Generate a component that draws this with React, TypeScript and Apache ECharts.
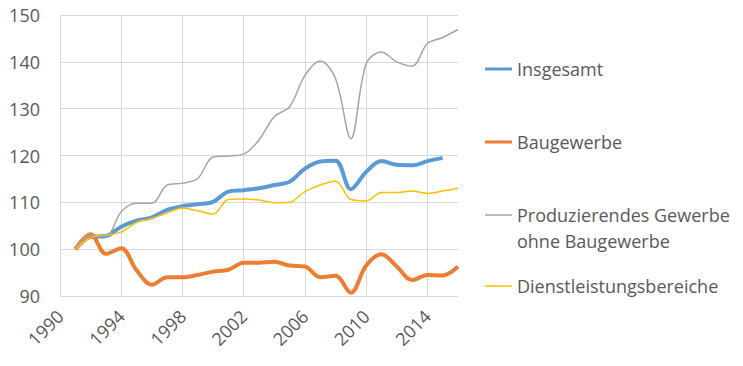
import React, { useEffect, useRef } from "react";
import * as echarts from "echarts";

const years = [1991, 1992, 1993, 1994, 1995, 1996, 1997, 1998, 1999, 2000, 2001, 2002, 2003, 2004, 2005, 2006, 2007, 2008, 2009, 2010, 2011, 2012, 2013, 2014, 2015, 2016];

const insgesamt = [100, 102.6, 102.8, 104.8, 106.1, 106.8, 108.4, 109.2, 109.6, 110.1, 112.3, 112.6, 113, 113.7, 114.4, 117.2, 118.7, 118.9, 112.8, 116.5, 118.8, 118, 117.9, 118.8, 119.5];
const baugewerbe = [100, 103.2, 99, 100.2, 95.5, 92.4, 94, 94, 94.5, 95.2, 95.6, 97.1, 97.1, 97.3, 96.5, 96.3, 94, 94.3, 90.7, 96.5, 98.9, 96.3, 93.4, 94.5, 94.4, 96.3];
const produzierendes = [100, 103, 102.8, 108, 109.8, 109.8, 113.7, 114.1, 115.1, 119.7, 119.9, 120.3, 123.3, 128.3, 130.4, 137.1, 140.2, 136.4, 123.6, 139.6, 142.1, 140, 139.1, 143.9, 145.2, 146.9];
const dienstleistung = [100, 102.5, 103, 103.7, 105.7, 106.6, 107.7, 108.8, 108.2, 107.5, 110.6, 110.7, 110.5, 109.9, 110, 112.3, 113.7, 114.5, 110.6, 110.3, 112.1, 112.1, 112.4, 111.9, 112.4, 113];

const seriesNames = ["Insgesamt", "Baugewerbe", "Produzierendes Gewerbe ohne Baugewerbe", "Dienstleistungsbereiche"];
const legendLabels = ["Insgesamt", "Baugewerbe", "\nProduzierendes Gewerbe\nohne Baugewerbe", "Dienstleistungsbereiche"];
const seriesValues = [insgesamt, baugewerbe, produzierendes, dienstleistung];
const seriesColors = ["#5b9bd5", "#ed7d31", "#a5a5a5", "#ffc000"];
const seriesWidths = [4, 4, 1.5, 1.5];

const FONT = "'Open Sans', sans-serif";

export default function App() {
  const ref = useRef<HTMLDivElement>(null);
  useEffect(() => {
    if (!ref.current) return;
    const chart = echarts.init(ref.current, null, { renderer: "svg" });
    const legendTops = [51, 124, 171, 268];
    const legends = seriesNames.map((name, i) => ({
      show: true,
      left: 480,
      top: legendTops[i],
      orient: "vertical",
      icon: "rect",
      itemWidth: 27,
      itemHeight: i < 2 ? 3 : 1.5,
      selectedMode: false,
      data: [name],
      formatter: () => legendLabels[i],
      textStyle: {
        fontFamily: FONT,
        fontSize: 18,
        color: "#595959",
        lineHeight: 26,
      },
    }));
    chart.setOption({
      animation: false,
      backgroundColor: "#ffffff",
      grid: { left: 60, right: 285, top: 15, bottom: 70, containLabel: false },
      legend: legends,
      xAxis: {
        type: "value",
        min: 1990,
        max: 2016,
        interval: 4,
        axisLine: { show: true, lineStyle: { color: "#d9d9d9", width: 1 } },
        axisTick: { show: false },
        splitLine: { show: true, showMaxLine: false, lineStyle: { color: "#d9d9d9", width: 1 } },
        axisLabel: {
          rotate: 45,
          margin: 17,
          showMaxLabel: false,
          fontFamily: FONT,
          fontSize: 18,
          color: "#595959",
          formatter: (v: number) => String(v),
        },
      },
      yAxis: {
        type: "value",
        min: 90,
        max: 150,
        interval: 10,
        axisLine: { show: true, lineStyle: { color: "#d9d9d9", width: 1 } },
        axisTick: { show: false },
        splitLine: { show: true, lineStyle: { color: "#d9d9d9", width: 1 } },
        axisLabel: { margin: 20, fontFamily: FONT, fontSize: 18, color: "#595959" },
      },
      series: seriesNames.map((name, i) => ({
        name,
        type: "line",
        smooth: 0.35,
        showSymbol: false,
        symbol: "none",
        color: seriesColors[i],
        lineStyle: { color: seriesColors[i], width: seriesWidths[i] },
        data: seriesValues[i].map((v, j) => [years[j], v]),
      })),
    });
    return () => chart.dispose();
  }, []);
  return <div ref={ref} style={{ position: "fixed", left: 0, top: 0, width: 743, height: 366 }} />;
}
